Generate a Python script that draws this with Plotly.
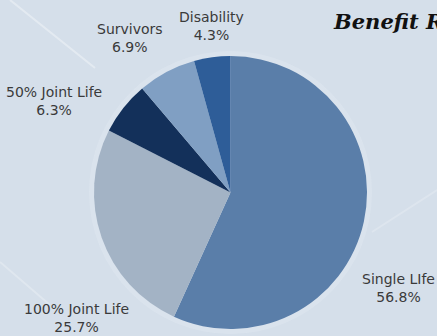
import plotly.graph_objects as go

labels = ["Single LIfe", "100% Joint Life", "50% Joint Life", "Survivors", "Disability"]
values = [56.8, 25.7, 6.3, 6.9, 4.3]
colors = ["#5a7ea9", "#a3b3c5", "#13305a", "#809fc3", "#2e5d98"]
title_text = "Benefit Recipients"

W, H = 437, 336

def px(x):
    return x / W

def py(y):
    return 1 - y / H

# label block centres (pixels)
label_pos = [(398, 288), (76, 318), (54, 101), (130, 38), (211, 26)]

fig = go.Figure()
fig.add_trace(go.Pie(
    labels=labels,
    values=values,
    sort=False,
    direction="clockwise",
    rotation=0,
    marker=dict(colors=colors, line=dict(width=0)),
    textinfo="none",
    hoverinfo="label+percent",
    domain=dict(x=[px(94), px(367)], y=[py(329), py(56)]),
    showlegend=False,
))

annotations = []
for (lab, val), (x, y) in zip(zip(labels, values), label_pos):
    annotations.append(dict(
        x=px(x), y=py(y), xref="paper", yref="paper",
        text=f"{lab}<br>{val:.1f}%", showarrow=False,
        xanchor="center", yanchor="middle", align="center",
        font=dict(family="DejaVu Sans", size=14, color="#3a3a3a"),
    ))
annotations.append(dict(
    x=px(331), y=py(21), xref="paper", yref="paper",
    text=f"<b><i>{title_text}</i></b>", showarrow=False,
    xanchor="left", yanchor="middle",
    font=dict(family="DejaVu Serif", size=21, color="#111111"),
))

shapes = [
    # soft halo round the pie
    dict(type="circle", xref="paper", yref="paper",
         x0=px(89), x1=px(372), y0=py(334), y1=py(51),
         fillcolor="rgba(232,238,245,0.3)", line=dict(width=0), layer="below"),
    # faint diagonal streaks in the background
    dict(type="line", xref="paper", yref="paper", x0=px(10), y0=py(0), x1=px(95), y1=py(68),
         line=dict(color="rgba(255,255,255,0.35)", width=2), layer="below"),
    dict(type="line", xref="paper", yref="paper", x0=px(0), y0=py(262), x1=px(50), y1=py(305),
         line=dict(color="rgba(255,255,255,0.25)", width=2), layer="below"),
    dict(type="line", xref="paper", yref="paper", x0=px(372), y0=py(232), x1=px(437), y1=py(190),
         line=dict(color="rgba(255,255,255,0.2)", width=2), layer="below"),
]

fig.update_layout(
    width=W, height=H,
    margin=dict(l=0, r=0, t=0, b=0),
    paper_bgcolor="#d5dfea",
    plot_bgcolor="#d5dfea",
    annotations=annotations,
    shapes=shapes,
)

fig.write_html("out.html")
